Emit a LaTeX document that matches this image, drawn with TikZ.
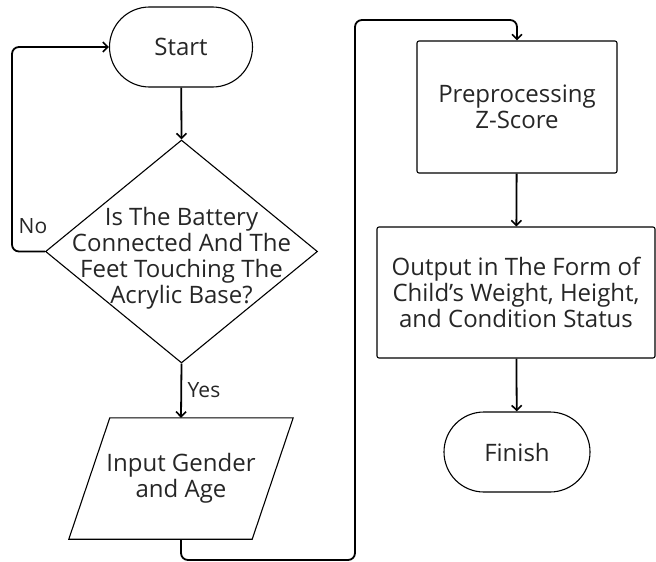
\documentclass[tikz,border=0pt]{standalone}
\usepackage{fontspec}
\setmainfont{Open Sans}
\usetikzlibrary{shapes.misc,shapes.geometric,arrows.meta}
\begin{document}
\begin{tikzpicture}[x=1pt,y=-1pt,
  every node/.style={font=\fontsize{24}{26}\selectfont, text=black!85, align=center},
  term/.style={draw, line width=1.1pt, rounded rectangle, minimum width=#1, minimum height=80pt, inner sep=0pt},
  procbox/.style={draw, line width=1.1pt, rounded corners=2pt, inner sep=0pt},
  conn/.style={line width=1.8pt, rounded corners=7pt, -{Straight Barb[length=5pt,width=10pt,line width=1.6pt]}},
  lbl/.style={font=\fontsize{21}{24}\selectfont}
]
\useasboundingbox (0,0) rectangle (656,562);

\node[term=143pt] (start) at (181,47) {Start};
\node[draw, line width=1.1pt, diamond, minimum width=272pt, minimum height=223pt, inner sep=0pt] (dec) at (181.5,251.5) {};
\node (dectext) at (181.5,258) {Is The Battery\\Connected And The\\Feet Touching The\\Acrylic Base?};
\node[minimum width=224pt, minimum height=121pt, inner sep=0pt] (inp) at (181,478.5) {Input Gender\\and Age};
\draw[line width=1.1pt] ([xshift=41pt]inp.north west) -- (inp.north east) -- ([xshift=-41pt]inp.south east) -- (inp.south west) -- cycle;

\node[procbox, minimum width=200pt, minimum height=132pt] (pre) at (517,107) {Preprocessing\\Z-Score};
\node[procbox, minimum width=278pt, minimum height=131pt] (out) at (516,292.5) {Output in The Form of\\Child’s Weight, Height,\\and Condition Status};
\node[term=146pt] (fin) at (517,452) {Finish};

\coordinate (nocorner) at (12,47);
\coordinate (b1) at (355,560);
\coordinate (b2) at (355,20);

\draw[conn] (start) -- (dec.north);
\draw[conn] (dec.west) -| (nocorner) -- (start.west);
\node[lbl] (nolbl) at (33,226) {No};
\draw[conn] (dec.south) -- (inp.north);
\node[lbl] (yeslbl) at (204,390) {Yes};
\draw[conn] (inp.south) |- (b1) -- (b2) -| (pre.north);
\draw[conn] (pre) -- (out);
\draw[conn] (out) -- (fin);
\end{tikzpicture}
\end{document}
